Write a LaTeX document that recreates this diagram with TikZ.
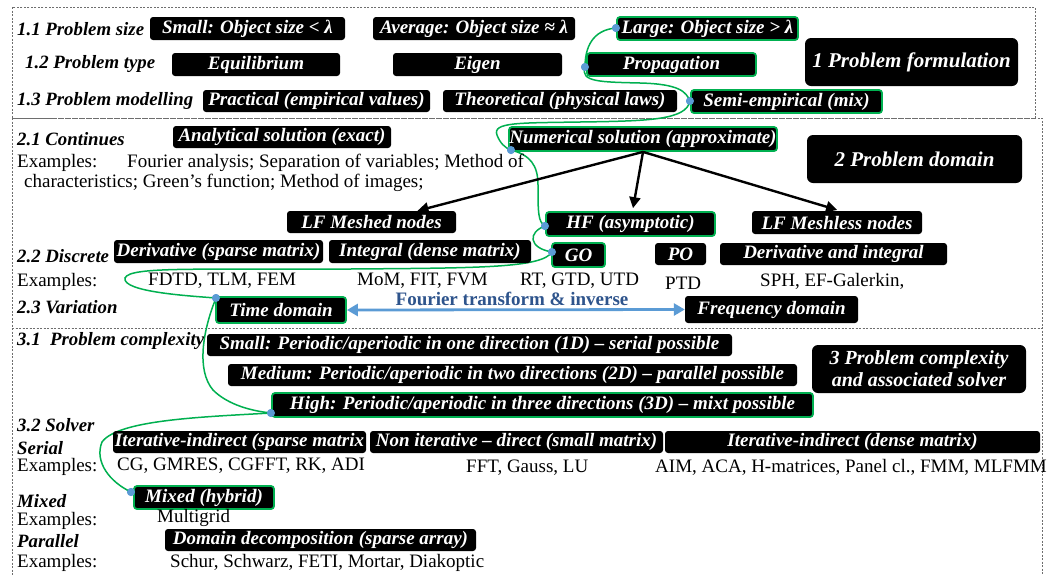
\documentclass[tikz,border=0pt]{standalone}
\usepackage{fontspec}
\setmainfont{Liberation Serif}
\usetikzlibrary{arrows.meta,calc}
\definecolor{grn}{RGB}{0,176,80}
\definecolor{dotblue}{RGB}{91,155,213}
\definecolor{ftblue}{RGB}{46,84,140}
\definecolor{secgray}{RGB}{110,110,110}

\tikzset{
  bx/.style={fill=black, rounded corners=3pt, text=white, inner sep=0pt,
    font=\bfseries\itshape\fontsize{19}{20}\selectfont},
  gbx/.style={bx, draw=grn, line width=1.8pt},
  bigbx/.style={bx, rounded corners=6pt, align=center,
    font=\bfseries\itshape\fontsize{21}{23}\selectfont},
  lbl/.style={anchor=west, inner sep=0pt, font=\bfseries\itshape\fontsize{18.8}{20}\selectfont},
  txt/.style={anchor=west, inner sep=0pt, font=\fontsize{19}{20}\selectfont},
  dotnode/.style={circle, fill=dotblue, inner sep=0pt, minimum size=8pt},
  link/.style={draw=grn, line width=1.5pt},
  sec/.style={draw=secgray, dash pattern=on 2pt off 1.5pt, line width=0.7pt},
  branch/.style={draw=black, line width=2.4pt, -{Triangle[length=11pt,width=11pt]}},
  ftarrow/.style={draw=dotblue, line width=2.8pt,
    {Triangle[length=11pt,width=12pt]}-{Triangle[length=11pt,width=12pt]}}
}

% box: style, name, x1, y1, x2, y2, text
\newcommand\bnode[7]{\node[#1, minimum width={(#5-#3)*1pt}, minimum height={(#6-#4)*1pt}]
  (#2) at ({(#3+#5)/2},{(#4+#6)/2}) {#7};}

\begin{document}
\begin{tikzpicture}[x=1pt,y=-1pt]
\useasboundingbox (0,0) rectangle (1049,574);
\fill[white] (0,0) rectangle (1049,574);

% section frames
\draw[sec] (12,7) rectangle (1035,118);
\draw[sec] (12,118) rectangle (1042,328);
\draw[sec] (12,328) -- (12,580);
\draw[sec] (12,328) -- (1042,328) -- (1042,580);

% connection dots
\node[dotnode] (d1) at (616,28) {};
\node[dotnode] (d2) at (585,67) {};
\node[dotnode] (d3) at (690,101) {};
\node[dotnode] (d4) at (511,150) {};
\node[dotnode] (d5) at (545,226) {};
\node[dotnode] (d6) at (552,252) {};
\node[dotnode] (d7) at (216,298) {};
\node[dotnode] (d8) at (271,413) {};
\node[dotnode] (d9) at (131,492) {};

% green chain
\draw[link] (d1.center) .. controls (592,30) and (585,48) .. (d2.center);
\draw[link] (d2.center) .. controls (580,82) and (600,82) .. (640,83)
  .. controls (680,84) and (686,92) .. (d3.center);
\draw[link] (d3.center) .. controls (686,120) and (650,121) .. (580,122)
  .. controls (520,123) and (492,122) .. (497,135)
  .. controls (500,143) and (505,148) .. (d4.center);
\draw[link] (d4.center) .. controls (530,155) and (538,165) .. (538,185)
  .. controls (538,212) and (538,222) .. (d5.center);
\draw[link] (d5.center) .. controls (528,232) and (528,248) .. (d6.center);
\draw[link] (d6.center) .. controls (542,268) and (480,268) .. (350,269)
  .. controls (200,270) and (130,266) .. (125,278)
  .. controls (122,292) and (190,296) .. (d7.center);
\draw[link] (d7.center) .. controls (203,330) and (196,370) .. (213,390)
  .. controls (228,405) and (252,411) .. (d8.center);
\draw[link] (d8.center) .. controls (200,417) and (118,420) .. (102,442)
  .. controls (94,462) and (110,482) .. (d9.center);

% 1 problem formulation
\node[lbl] (l11) at (17,29) {1.1 Problem size};
\bnode{bx}{small}{150}{17}{345}{40}{Small: Object size < λ}
\bnode{bx}{average}{373}{17}{575}{40}{Average: Object size ≈ λ}
\bnode{gbx}{large}{617}{17}{798}{40}{Large: Object size > λ}
\node[lbl] (l12) at (25,64) {1.2 Problem type};
\bnode{bx}{equil}{172}{53}{340}{76}{Equilibrium}
\bnode{bx}{eigen}{393}{53}{562}{76}{Eigen}
\bnode{gbx}{propag}{587}{53}{756}{76}{Propagation}
\bnode{bigbx}{formul}{805}{38}{1018}{86}{1 Problem formulation}
\node[lbl] (l13) at (17,101) {1.3 Problem modelling};
\bnode{bx}{practical}{203}{90}{430}{112}{Practical (empirical values)}
\bnode{bx}{theoretical}{443}{90}{677}{112}{Theoretical (physical laws)}
\bnode{gbx}{semi}{691}{90}{882}{113}{Semi-empirical (mix)}

% 2 problem domain
\node[lbl] (l21) at (17,139) {2.1 Continues};
\bnode{bx}{analytical}{173}{126}{391}{148}{Analytical solution (exact)}
\bnode{gbx}{numerical}{509}{127}{777}{151}{Numerical solution (approximate)}
\bnode{bigbx}{domain}{807}{135}{1022}{183}{2 Problem domain}
\node[txt] (ex1) at (17,163) {Examples:};
\node[txt] (ex1a) at (127,163) {Fourier analysis; Separation of variables; Method of};
\node[txt] (ex1b) at (24,183) {characteristics; Green’s function; Method of images;};
\bnode{bx}{lfmeshed}{287}{211}{456}{233}{LF Meshed nodes}
\bnode{gbx}{hf}{546}{212}{715}{236}{HF (asymptotic)}
\bnode{bx}{lfmeshless}{752}{211}{922}{234}{LF Meshless nodes}
\node[lbl] (l22) at (17,256) {2.2 Discrete};
\bnode{bx}{deriv}{114}{240}{323}{263}{Derivative (sparse matrix)}
\bnode{bx}{integral}{329}{240}{531}{263}{Integral (dense matrix)}
\bnode{gbx}{go}{552}{243}{605}{267}{GO}
\bnode{bx}{po}{655}{243}{706}{265}{PO}
\bnode{bx}{derivint}{720}{243}{947}{265}{Derivative and integral}
\node[txt] (ex2) at (17,282) {Examples:};
\node[txt] (ex2a) at (148,281) {FDTD, TLM, FEM};
\node[txt] (ex2b) at (357,281) {MoM, FIT, FVM};
\node[txt] (ex2c) at (520,281) {RT, GTD, UTD};
\node[txt] (ex2d) at (665,283) {PTD};
\node[txt] (ex2e) at (760,281) {SPH, EF-Galerkin,};
\node[lbl] (l23) at (17,307) {2.3 Variation};
\bnode{gbx}{time}{216}{297}{346}{323}{Time domain}
\bnode{bx}{freq}{685}{296}{858}{323}{Frequency domain}
\draw[ftarrow] (time.east) -- (freq.west);
\node[font=\bfseries\fontsize{19}{20}\selectfont, text=ftblue, inner sep=0pt] (ft) at (512,299) {Fourier transform \& inverse};

% branches of the numerical solution
\draw[branch] (numerical.south) -- ($(lfmeshed.north)+(46,0)$);
\draw[branch, shorten >=3pt] (numerical.south) -- ($(hf.north)+(2,0)$);
\draw[branch, shorten >=3pt] (numerical.south) -- ($(lfmeshless.north)+(3,0)$);

% 3 problem complexity
\node[lbl] (l31) at (17,341) {3.1 \ Problem complexity};
\bnode{bx}{small3}{207}{334}{732}{356}{Small: Periodic/aperiodic in one direction (1D) – serial possible}
\bnode{bx}{medium3}{228}{364}{797}{386}{Medium: Periodic/aperiodic in two directions (2D) – parallel possible}
\bnode{gbx}{high3}{272}{393}{813}{417}{High: Periodic/aperiodic in three directions (3D) – mixt possible}
\bnode{bigbx}{complex3}{812}{345}{1026}{393}{\fontsize{20}{21}\selectfont 3 Problem complexity\\[-1pt]\fontsize{20}{21}\selectfont and associated solver}
\node[lbl] (l32) at (17,425) {3.2 Solver};
\node[lbl] (lser) at (17,448) {Serial};
\bnode{bx}{itsparse}{113}{431}{366}{453}{Iterative-indirect (sparse matrix}
\bnode{bx}{noniter}{370}{431}{663}{453}{Non iterative – direct (small matrix)}
\bnode{bx}{itdense}{665}{431}{1040}{453}{Iterative-indirect (dense matrix)}
\node[txt] (ex3) at (17,467) {Examples:};
\node[txt] (ex3a) at (117,466) {CG, GMRES, CGFFT, RK, ADI};
\node[txt] (ex3b) at (466,468) {FFT, Gauss, LU};
\node[txt] (ex3c) at (655,467) {AIM, ACA, H-matrices, Panel cl., FMM, MLFMM};
\bnode{gbx}{mixed}{134}{486}{274}{509}{Mixed (hybrid)}
\node[lbl] (lmix) at (17,501) {Mixed};
\node[txt] (ex4) at (17,521) {Examples:};
\node[txt] (ex4a) at (157,518) {Multigrid};
\node[lbl] (lpar) at (17,541) {Parallel};
\bnode{bx}{domdec}{165}{529}{476}{551}{Domain decomposition (sparse array)}
\node[txt] (ex5) at (17,563) {Examples:};
\node[txt] (ex5a) at (170,563) {Schur, Schwarz, FETI, Mortar, Diakoptic};

% dots on top
\foreach \d in {d1,d2,d3,d4,d5,d6,d7,d8,d9} \node[dotnode] at (\d) {};
\end{tikzpicture}
\end{document}
